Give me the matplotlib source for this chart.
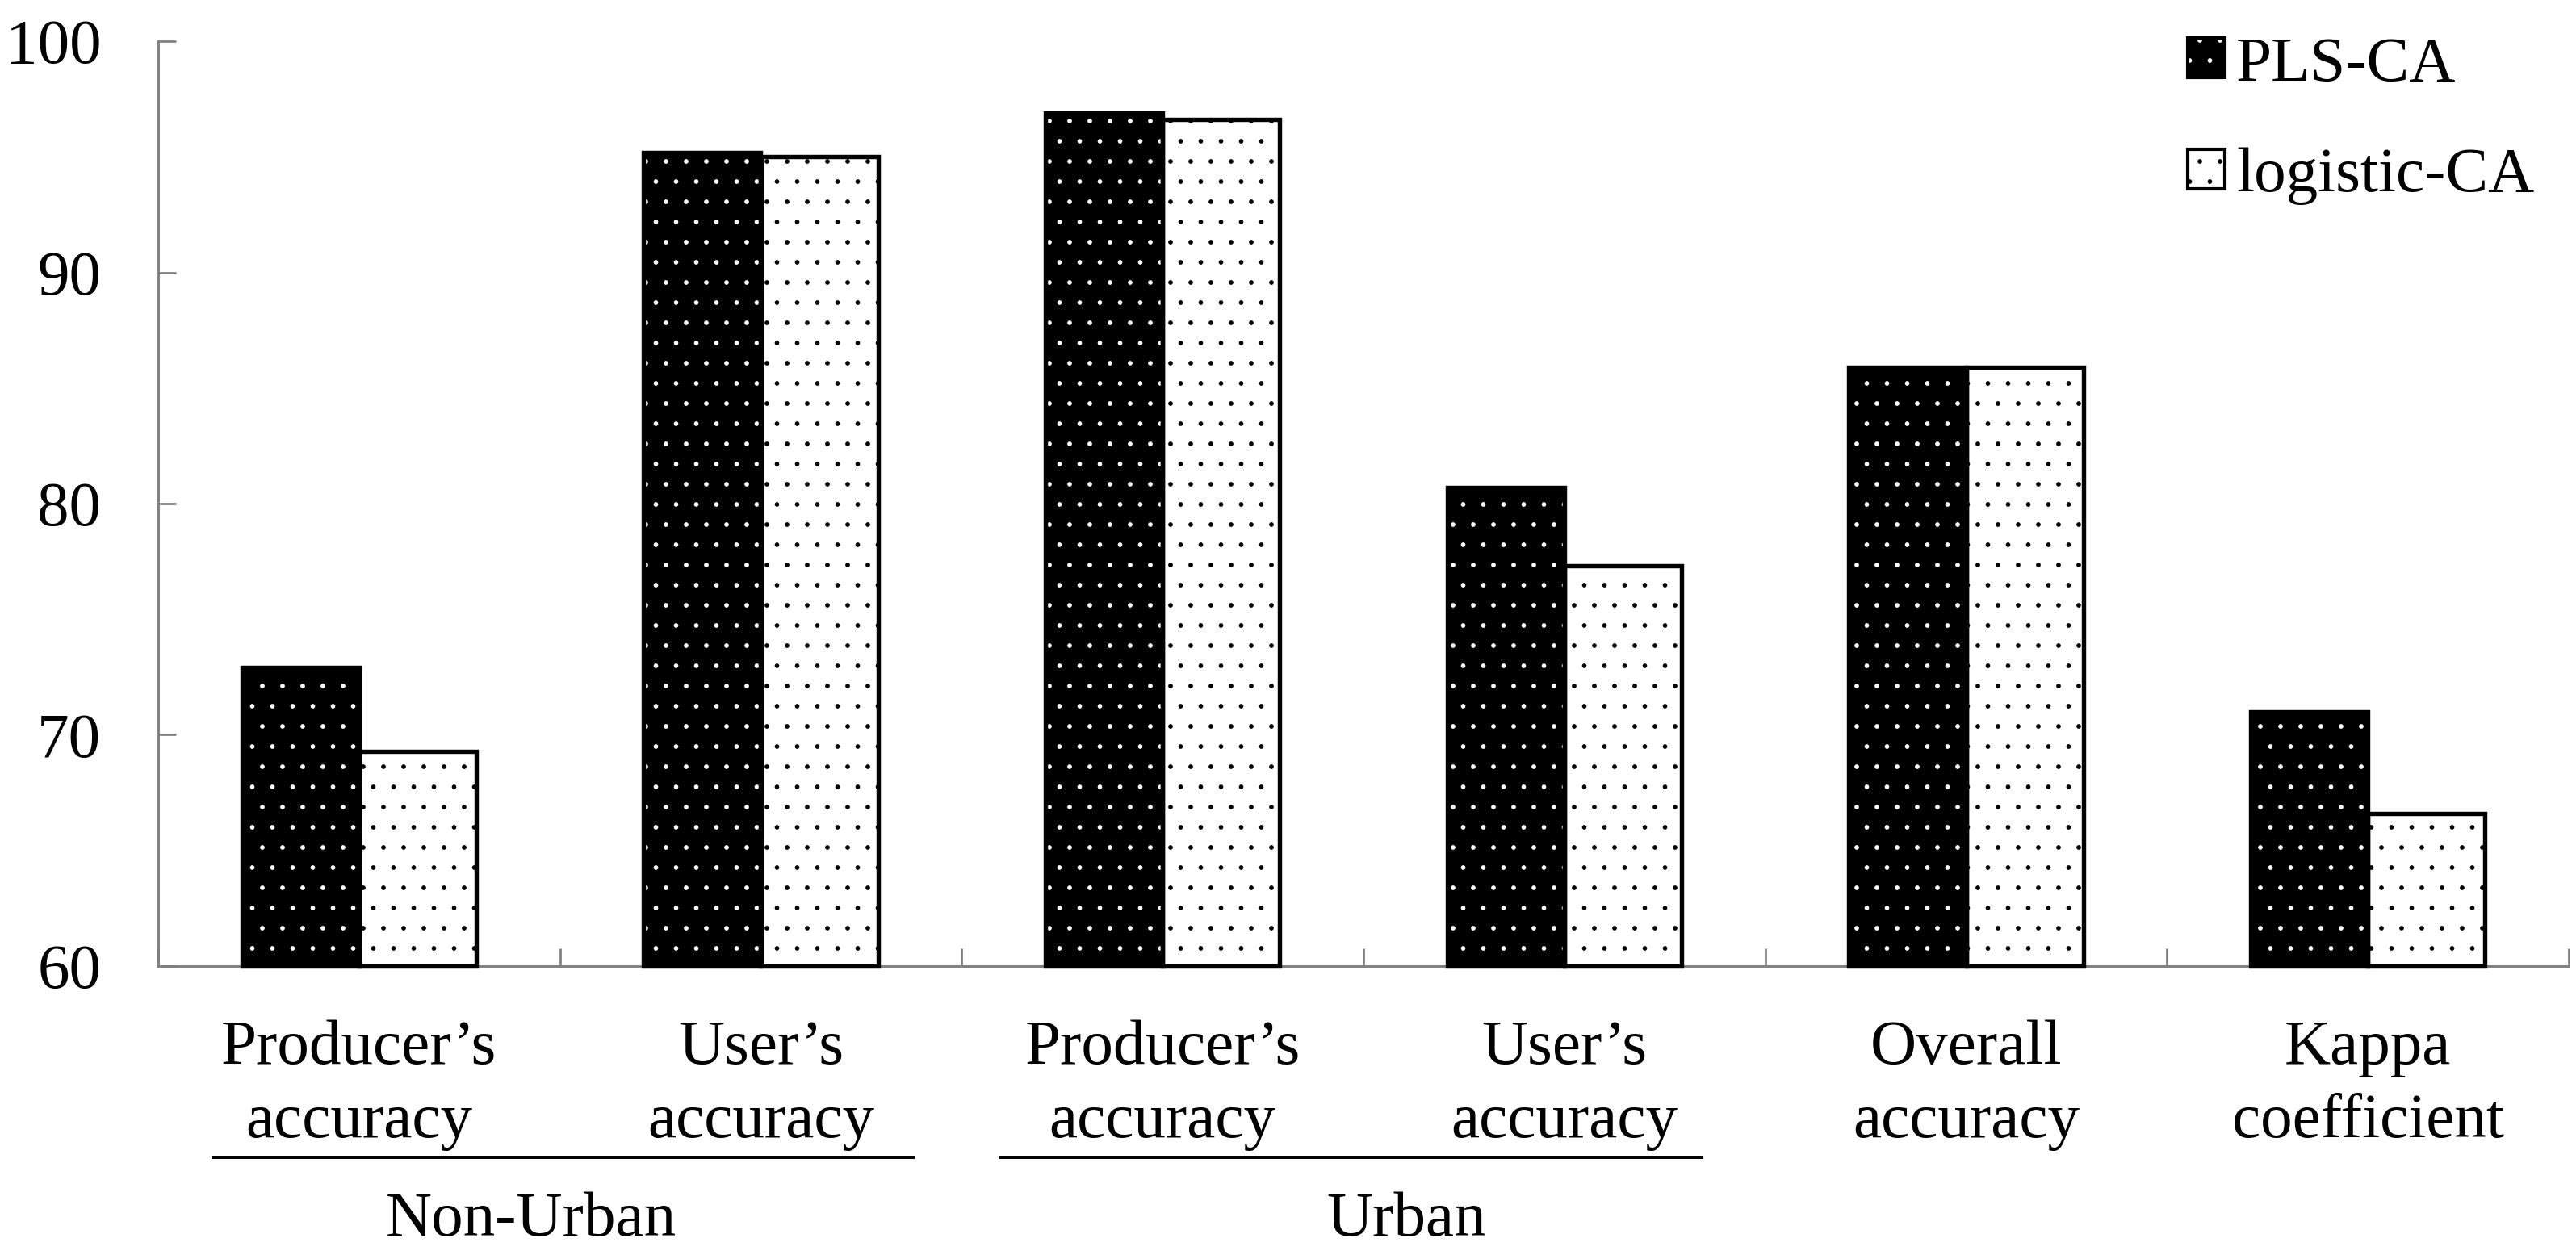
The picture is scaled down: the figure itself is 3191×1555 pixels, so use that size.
import numpy as np
import matplotlib
matplotlib.use("Agg")
import matplotlib.pyplot as plt
from matplotlib.patches import Patch
from matplotlib.legend_handler import HandlerTuple
from matplotlib.transforms import blended_transform_factory

# data
label_top = ["Producer’s", "User’s", "Producer’s", "User’s", "Overall", "Kappa"]
label_bottom = ["accuracy", "accuracy", "accuracy", "accuracy", "accuracy", "coefficient"]
pls_ca = [72.9, 95.2, 96.9, 80.7, 85.9, 71.0]
logistic_ca = [69.3, 95.0, 96.6, 77.3, 85.9, 66.6]
series_names = ["PLS-CA", "logistic-CA"]
group_names = ["Non-Urban", "Urban"]
y_ticks = [60, 70, 80, 90, 100]

plt.rcParams['font.family'] = ['Liberation Serif', 'DejaVu Serif']
plt.rcParams['hatch.linewidth'] = 0.3

W, H, DPI = 3191, 1555, 150
fig = plt.figure(figsize=(W / DPI, H / DPI), dpi=DPI)
ax = fig.add_axes([196 / W, 1 - 1197 / H, (3182 - 196) / W, (1197 - 51) / H])

base = y_ticks[0]
x = np.arange(len(pls_ca))
w = 0.292
pls_h = [v - base for v in pls_ca]
log_h = [v - base for v in logistic_ca]
edge_lw = 2.6

# black bars with white dots
ax.bar(x - w, pls_h, w, bottom=base, align='edge', color='black',
       edgecolor='white', hatch='.', linewidth=0, zorder=3)
ax.bar(x - w, pls_h, w, bottom=base, align='edge', fill=False,
       edgecolor='black', linewidth=edge_lw, zorder=4, clip_on=False)
# white bars with black dots
ax.bar(x, log_h, w, bottom=base, align='edge', color='white',
       edgecolor='black', hatch='.', linewidth=edge_lw, zorder=3, clip_on=False)

ax.set_xlim(-0.5, len(x) - 0.5)
ax.set_ylim(y_ticks[0], y_ticks[-1])
ax.set_yticks(y_ticks)
ax.set_xticks(np.arange(-0.5, len(x), 1))
ax.set_xticklabels([])

for s in ['top', 'right']:
    ax.spines[s].set_visible(False)
for s in ['left', 'bottom']:
    ax.spines[s].set_color('#7f7f7f')
    ax.spines[s].set_linewidth(1.4)

ax.tick_params(axis='both', direction='in', length=10.5, width=1.3, color='#7f7f7f')
ax.tick_params(axis='y', labelsize=38, pad=34)

fs = 38
trans = blended_transform_factory(ax.transData, fig.transFigure)
for i in x:
    ax.text(i, 1 - 1318 / H, label_top[i], ha='center', va='baseline',
            fontsize=fs, transform=trans)
    ax.text(i, 1 - 1409 / H, label_bottom[i], ha='center', va='baseline',
            fontsize=fs, transform=trans)

# group underlines and names
spans = [(-0.364, 1.379), (1.598, 3.342)]
name_x = [0.428, 2.608]
for (a, b), nx, name in zip(spans, name_x, group_names):
    ax.plot([a, b], [1 - 1434 / H] * 2, color='black', lw=1.9,
            transform=trans, clip_on=False)
    ax.text(nx, 1 - 1531 / H, name, ha='center', va='baseline',
            fontsize=fs, transform=trans)

handles = [
    (Patch(facecolor='black', edgecolor='white', hatch='.', linewidth=0),
     Patch(fill=False, edgecolor='black', linewidth=2)),
    Patch(facecolor='white', edgecolor='black', hatch='.', linewidth=2),
]
fig.legend(handles, series_names, loc='upper left',
           bbox_to_anchor=(2710 / W, 1 - 45 / H), frameon=False, fontsize=fs,
           handlelength=0.58, handleheight=0.58, handletextpad=0.18,
           labelspacing=0.84, borderpad=0, borderaxespad=0,
           handler_map={tuple: HandlerTuple(ndivide=1, pad=0)})

fig.savefig('out.png', dpi=DPI)
